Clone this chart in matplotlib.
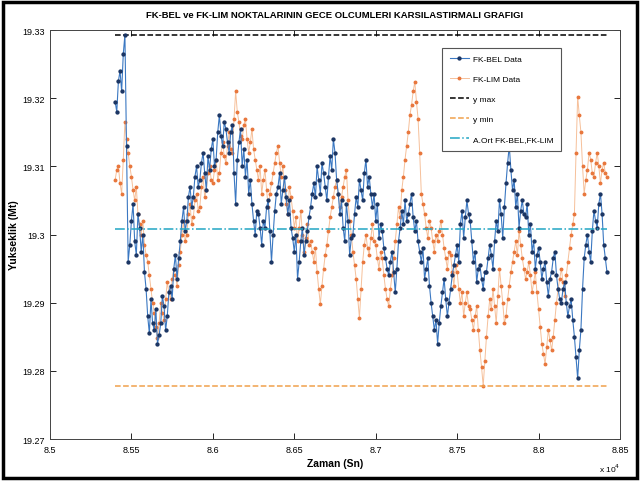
import numpy as np
import matplotlib
matplotlib.use('Agg')
import matplotlib.pyplot as plt
from matplotlib.patches import Rectangle
from matplotlib.ticker import FuncFormatter

# zaman (sn), 10 s aralik
zaman = np.arange(85400, 88421, 10)

fk_bel = [
    19.3195, 19.3180, 19.3225, 19.3240, 19.3210, 19.3265, 19.3293, 19.3130, 19.2960, 19.2985,
    19.3020, 19.3045, 19.2990, 19.2970, 19.3030, 19.3010, 19.2975, 19.3000, 19.2945, 19.2920,
    19.2880, 19.2855, 19.2905, 19.2870, 19.2860, 19.2890, 19.2840, 19.2852, 19.2870, 19.2910,
    19.2895, 19.2860, 19.2880, 19.2915, 19.2925, 19.2905, 19.2950, 19.2970, 19.2935, 19.2965,
    19.2990, 19.3020, 19.3040, 19.3005, 19.3020, 19.3055, 19.3070, 19.3040, 19.3055, 19.3085,
    19.3100, 19.3070, 19.3080, 19.3105, 19.3120, 19.3090, 19.3065, 19.3115, 19.3095, 19.3125,
    19.3140, 19.3100, 19.3110, 19.3150, 19.3175, 19.3145, 19.3130, 19.3165, 19.3155, 19.3135,
    19.3120, 19.3150, 19.3160, 19.3090, 19.3045, 19.3110, 19.3135, 19.3155, 19.3100, 19.3125,
    19.3085, 19.3110, 19.3060, 19.3080, 19.3045, 19.3020, 19.3000, 19.3035, 19.3030, 19.3010,
    19.2985, 19.3020, 19.3010, 19.3040, 19.3050, 19.3005, 19.2960, 19.3000, 19.3035, 19.3060,
    19.3070, 19.3090, 19.3045, 19.3065, 19.3085, 19.3055, 19.3030, 19.3050, 19.3010, 19.2995,
    19.2975, 19.3000, 19.2935, 19.2960, 19.2990, 19.3010, 19.2970, 19.2990, 19.3005, 19.3025,
    19.3040, 19.3060, 19.3075, 19.3055, 19.3100, 19.3080, 19.3060, 19.3105, 19.3090, 19.3070,
    19.3050, 19.3085, 19.3115, 19.3095, 19.3140, 19.3120, 19.3080, 19.3060, 19.3030, 19.3050,
    19.3010, 19.2990, 19.3045, 19.3020, 19.2970, 19.2995, 19.3000, 19.3030, 19.3055, 19.3040,
    19.3080, 19.3065, 19.3050, 19.3090, 19.3110, 19.3070, 19.3085, 19.3060, 19.3040, 19.3060,
    19.3020, 19.3045, 19.2995, 19.3015, 19.3005, 19.2980, 19.2965, 19.2950, 19.2940, 19.2960,
    19.2975, 19.2945, 19.2915, 19.2950, 19.2990, 19.3010, 19.3035, 19.3015, 19.3050, 19.3020,
    19.3030, 19.3045, 19.3060, 19.3025, 19.3005, 19.3020, 19.2990, 19.2975, 19.2960, 19.2980,
    19.2935, 19.2950, 19.2965, 19.2925, 19.2900, 19.2880, 19.2860, 19.2875, 19.2840, 19.2870,
    19.2895, 19.2915, 19.2935, 19.2905, 19.2880, 19.2900, 19.2920, 19.2940, 19.2955, 19.2970,
    19.2985, 19.2960, 19.3015, 19.3035, 19.2995, 19.3025, 19.3050, 19.3030, 19.3020, 19.2990,
    19.2960, 19.2975, 19.2930, 19.2950, 19.2955, 19.2935, 19.2920, 19.2945, 19.2945, 19.2965,
    19.2985, 19.2970, 19.2950, 19.2990, 19.3020, 19.3005, 19.3050, 19.3030, 19.2995, 19.3040,
    19.3075, 19.3105, 19.3130, 19.3095, 19.3065, 19.3080, 19.3040, 19.3060, 19.3010, 19.3035,
    19.3050, 19.3030, 19.3025, 19.3045, 19.3000, 19.3015, 19.2975, 19.2990, 19.2950, 19.2970,
    19.2980, 19.2960, 19.2935, 19.2950, 19.2960, 19.2930, 19.2910, 19.2935, 19.2945, 19.2965,
    19.2975, 19.2940, 19.2920, 19.2905, 19.2900, 19.2920, 19.2930, 19.2900, 19.2880, 19.2895,
    19.2905, 19.2875, 19.2850, 19.2820, 19.2789, 19.2830, 19.2860, 19.2920, 19.2965, 19.2985,
    19.3000, 19.2975, 19.2960, 19.3005, 19.3035, 19.3020, 19.3010, 19.3045, 19.3060, 19.3030,
    19.2985, 19.2965, 19.2945,
]

fk_lim = [
    19.3080, 19.3095, 19.3100, 19.3075, 19.3060, 19.3110, 19.3165, 19.3140, 19.3120, 19.3100,
    19.3085, 19.3065, 19.3050, 19.3070, 19.3030, 19.3015, 19.3000, 19.3020, 19.2985, 19.2970,
    19.2960, 19.2940, 19.2920, 19.2900, 19.2885, 19.2865, 19.2848, 19.2870, 19.2900, 19.2885,
    19.2875, 19.2905, 19.2930, 19.2915, 19.2905, 19.2935, 19.2950, 19.2940, 19.2925, 19.2955,
    19.2975, 19.3000, 19.3020, 19.2990, 19.3000, 19.3030, 19.3045, 19.3015, 19.3025, 19.3050,
    19.3060, 19.3035, 19.3040, 19.3070, 19.3085, 19.3055, 19.3065, 19.3090, 19.3100, 19.3080,
    19.3075, 19.3095, 19.3110, 19.3080, 19.3090, 19.3120, 19.3135, 19.3115, 19.3105, 19.3130,
    19.3150, 19.3125, 19.3120, 19.3170, 19.3210, 19.3180, 19.3165, 19.3145, 19.3140, 19.3160,
    19.3170, 19.3140, 19.3120, 19.3135, 19.3155, 19.3125, 19.3110, 19.3095, 19.3080, 19.3100,
    19.3060, 19.3080, 19.3095, 19.3065, 19.3040, 19.3060, 19.3075, 19.3090, 19.3105, 19.3120,
    19.3130, 19.3105, 19.3085, 19.3100, 19.3065, 19.3045, 19.3030, 19.3070, 19.3055, 19.3035,
    19.3010, 19.3025, 19.2990, 19.3010, 19.3035, 19.3000, 19.2975, 19.2995, 19.3015, 19.2985,
    19.2990, 19.2975, 19.2960, 19.2980, 19.2945, 19.2920, 19.2898, 19.2925, 19.2950, 19.2970,
    19.2985, 19.3005, 19.3025, 19.3040, 19.3055, 19.3070, 19.3080, 19.3060, 19.3040, 19.3055,
    19.3070, 19.3085, 19.3095, 19.3050, 19.3020, 19.3000, 19.2975, 19.2955, 19.2935, 19.2905,
    19.2878, 19.2920, 19.2960, 19.2985, 19.3000, 19.2980, 19.2970, 19.2995, 19.3015, 19.2990,
    19.2985, 19.2965, 19.2950, 19.2975, 19.2965, 19.2940, 19.2920, 19.2905, 19.2895, 19.2920,
    19.2940, 19.2965, 19.2990, 19.3015, 19.3040, 19.3025, 19.3065, 19.3085, 19.3110, 19.3130,
    19.3150, 19.3175, 19.3190, 19.3210, 19.3224, 19.3195, 19.3170, 19.3120, 19.3060, 19.3045,
    19.3030, 19.3010, 19.2995, 19.3020, 19.3010, 19.2990, 19.2975, 19.3000, 19.2990, 19.3005,
    19.3020, 19.3000, 19.2980, 19.2965, 19.2950, 19.2975, 19.2970, 19.2945, 19.2925, 19.2955,
    19.2945, 19.2920, 19.2900, 19.2915, 19.2880, 19.2900, 19.2915, 19.2895, 19.2890, 19.2875,
    19.2860, 19.2880, 19.2895, 19.2860, 19.2830, 19.2805, 19.2778, 19.2815, 19.2850, 19.2880,
    19.2905, 19.2890, 19.2920, 19.2895, 19.2870, 19.2910, 19.2950, 19.2925, 19.2900, 19.2870,
    19.2880, 19.2905, 19.2925, 19.2945, 19.2960, 19.2975, 19.2990, 19.2970, 19.3005, 19.2985,
    19.2965, 19.2950, 19.2935, 19.2945, 19.2960, 19.2940, 19.2915, 19.2930, 19.2945, 19.2915,
    19.2890, 19.2865, 19.2840, 19.2825, 19.2810, 19.2835, 19.2860, 19.2845, 19.2830, 19.2850,
    19.2875, 19.2900, 19.2920, 19.2935, 19.2950, 19.2930, 19.2910, 19.2940, 19.2960, 19.2980,
    19.3000, 19.3015, 19.3030, 19.3120, 19.3202, 19.3175, 19.3150, 19.3100, 19.3060, 19.3080,
    19.3095, 19.3120, 19.3110, 19.3090, 19.3085, 19.3105, 19.3120, 19.3100, 19.3075, 19.3095,
    19.3105, 19.3090, 19.3085,
]

tum = np.array(fk_bel + fk_lim)
y_max = tum.max()
y_min = tum.min()
ortalama = tum.mean()

plt.rcParams['font.family'] = ['Liberation Sans Narrow', 'Liberation Sans', 'DejaVu Sans']

fig = plt.figure(figsize=(6.4, 4.85), dpi=100)
ax = fig.add_axes([50 / 640, 1 - 440 / 485, 570 / 640, 409 / 485])

ax.plot(zaman, fk_bel, '-', color='#3b78c2', lw=0.8, marker='o', ms=2.1,
        mfc='#1b3563', mec='#1b3563', label='FK-BEL Data', zorder=3)
ax.plot(zaman, fk_lim, '-', color='#f6c09a', lw=0.7, marker='o', ms=1.8,
        mfc='#e8773d', mec='#e8773d', label='FK-LIM Data', zorder=2)
x_uc = [zaman[0], zaman[-1]]
ax.plot(x_uc, [y_max, y_max], '--', color='black', lw=1.1, label='y max')
ax.plot(x_uc, [y_min, y_min], '--', color='#f0a04b', lw=1.1, label='y min')
ax.plot(x_uc, [ortalama, ortalama], '-.', color='#22a6c4', lw=1.1,
        label='A.Ort FK-BEL,FK-LIM', zorder=4)

ax.set_xlim(85000, 88500)
ax.set_ylim(19.27, 19.33)
ax.set_xticks(np.arange(85000, 88501, 500))
ax.set_yticks(np.arange(19.27, 19.3301, 0.01))
ax.xaxis.set_major_formatter(FuncFormatter(lambda v, p: '%g' % round(v / 1e4, 3)))
ax.yaxis.set_major_formatter(FuncFormatter(lambda v, p: '%g' % round(v, 2)))
ax.tick_params(direction='in', top=True, right=True, length=4, width=0.6,
               labelsize=6.5, pad=4)
for s in ax.spines.values():
    s.set_linewidth(0.7)
    s.set_color('#444444')

ax.set_title('FK-BEL ve FK-LIM NOKTALARININ GECE OLCUMLERI KARSILASTIRMALI GRAFIGI',
             fontsize=6.8, fontweight='bold', pad=9)
ax.set_xlabel('Zaman (Sn)', fontsize=7.5, fontweight='bold', labelpad=3)
ax.set_ylabel('Yukseklik (Mt)', fontsize=7.5, fontweight='bold', labelpad=2)
ax.text(1.0, -0.055, r'x 10$^4$', transform=ax.transAxes, fontsize=6,
        ha='right', va='top')

leg = ax.legend(loc='upper right', bbox_to_anchor=(0.904, 0.966), fontsize=6,
                labelspacing=1.45, handlelength=2.3, handletextpad=0.5,
                borderpad=0.9, fancybox=False, framealpha=1, edgecolor='#555555')
leg.get_frame().set_linewidth(0.8)

fig.patches.append(Rectangle((3 / 640, 6 / 485), 634 / 640, 476 / 485,
                             transform=fig.transFigure, fill=False,
                             edgecolor='black', lw=2.5))

fig.savefig('out.png', dpi=100)
